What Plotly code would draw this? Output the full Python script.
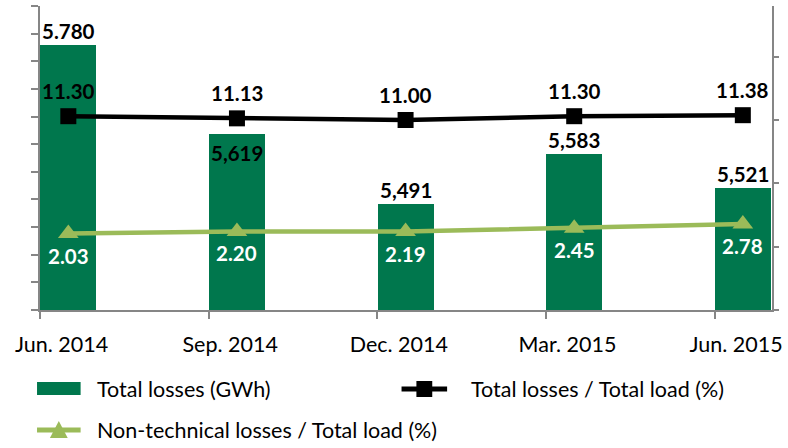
import plotly.graph_objects as go

# Quarterly loss figures
quarters = ["Jun. 2014", "Sep. 2014", "Dec. 2014", "Mar. 2015", "Jun. 2015"]
total_losses_gwh = [5780, 5619, 5491, 5583, 5521]
total_loss_pct = [11.30, 11.13, 11.00, 11.30, 11.38]
nontech_loss_pct = [2.03, 2.20, 2.19, 2.45, 2.78]

left_ticks = list(range(5300, 5851, 50))
right_ticks = [-4, 1, 6, 11, 16]

BAR_GREEN = "#00774D"
LIGHT_GREEN = "#9BBB59"
AXIS_GRAY = "#868686"
FONT = "Lato"

# Page geometry (pixels) used to place the hand-drawn legend
W, H = 788, 448
L, R, T, B = 40, 779, 6, 310


def px_x(px):
    return (px - L) / (R - L)


def px_y(py):
    return (B - py) / (B - T)


xs = list(range(len(quarters)))
bar_w = 0.332
x_lo, x_hi = -0.168, 4.173

fig = go.Figure()

fig.add_trace(go.Bar(
    x=xs, y=total_losses_gwh, width=bar_w,
    marker=dict(color=BAR_GREEN, line=dict(width=0)),
    name="Total losses (GWh)", showlegend=False,
))

fig.add_trace(go.Scatter(
    x=xs, y=total_loss_pct, yaxis="y2", mode="lines+markers",
    line=dict(color="black", width=4.5),
    marker=dict(symbol="square", size=16, color="black"),
    name="Total losses / Total load (%)", showlegend=False,
))

fig.add_trace(go.Scatter(
    x=xs, y=nontech_loss_pct, yaxis="y2", mode="lines+markers",
    line=dict(color=LIGHT_GREEN, width=4.5),
    marker=dict(symbol="triangle-up", size=18, color=LIGHT_GREEN),
    name="Non-technical losses / Total load (%)", showlegend=False,
))

annotations = []
label_font = dict(family=FONT, size=20.5, color="black", weight="bold")

# Bar value labels: above the bar, except the second one which sits inside the top
bar_text = [f"{v:,}" for v in total_losses_gwh]
bar_text[0] = bar_text[0].replace(",", ".")
for i, (v, t) in enumerate(zip(total_losses_gwh, bar_text)):
    inside = i == 1
    annotations.append(dict(
        x=xs[i], y=v, xref="x", yref="y", text=t, showarrow=False,
        yanchor="middle", yshift=-19 if inside else 14, font=label_font,
    ))

for i, v in enumerate(total_loss_pct):
    annotations.append(dict(
        x=xs[i], y=v, xref="x", yref="y2", text=f"{v:.2f}", showarrow=False,
        yanchor="middle", yshift=25, font=label_font,
    ))

for i, v in enumerate(nontech_loss_pct):
    annotations.append(dict(
        x=xs[i], y=v, xref="x", yref="y2", text=f"{v:.2f}", showarrow=False,
        yanchor="middle", yshift=-22,
        font=dict(family=FONT, size=20.5, color="white", weight="bold"),
    ))

# Legend drawn by hand: wide swatch for bars, line+marker keys for the series
legend_font = dict(family=FONT, size=21.5, color="black")
shapes = []
shapes.append(dict(type="rect", xref="paper", yref="paper",
                   x0=px_x(37), x1=px_x(81), y0=px_y(395), y1=px_y(382),
                   fillcolor=BAR_GREEN, line=dict(width=0)))
annotations.append(dict(xref="paper", yref="paper", x=px_x(96), y=px_y(389),
                        xanchor="left", yanchor="middle", showarrow=False,
                        text=fig.data[0].name, font=legend_font))

shapes.append(dict(type="line", xref="paper", yref="paper",
                   x0=px_x(405), x1=px_x(451), y0=px_y(389), y1=px_y(389),
                   line=dict(color="black", width=5)))
shapes.append(dict(type="rect", xref="paper", yref="paper",
                   x0=px_x(420), x1=px_x(436), y0=px_y(397), y1=px_y(381),
                   fillcolor="black", line=dict(width=0)))
annotations.append(dict(xref="paper", yref="paper", x=px_x(473), y=px_y(389),
                        xanchor="left", yanchor="middle", showarrow=False,
                        text=fig.data[1].name, font=legend_font))

shapes.append(dict(type="line", xref="paper", yref="paper",
                   x0=px_x(37), x1=px_x(81), y0=px_y(430), y1=px_y(430),
                   line=dict(color=LIGHT_GREEN, width=5)))
tri = "M {},{} L {},{} L {},{} Z".format(
    px_x(50), px_y(438), px_x(68), px_y(438), px_x(59), px_y(421))
shapes.append(dict(type="path", xref="paper", yref="paper", path=tri,
                   fillcolor=LIGHT_GREEN, line=dict(width=0)))
annotations.append(dict(xref="paper", yref="paper", x=px_x(96), y=px_y(430),
                        xanchor="left", yanchor="middle", showarrow=False,
                        text=fig.data[2].name, font=legend_font))

fig.update_layout(
    width=W, height=H,
    margin=dict(l=L, r=W - R, t=T, b=H - B, pad=0),
    paper_bgcolor="white", plot_bgcolor="white",
    showlegend=False,
    bargap=0,
    xaxis=dict(
        range=[x_lo, x_hi],
        tickmode="array",
        tickvals=[x - 0.04 for x in xs],
        ticktext=quarters,
        ticks="", ticklabelstandoff=14,
        tickfont=dict(family=FONT, size=21.5, color="black"),
        showline=True, linecolor=AXIS_GRAY, linewidth=2,
        showgrid=False, zeroline=False,
        minor=dict(tickmode="array", tickvals=[x - 0.1674 for x in xs],
                   ticks="outside", ticklen=7, tickwidth=2, tickcolor=AXIS_GRAY,
                   showgrid=False),
    ),
    yaxis=dict(
        range=[left_ticks[0], left_ticks[-1]],
        tickmode="array", tickvals=left_ticks, showticklabels=False,
        ticks="outside", ticklen=7, tickwidth=2, tickcolor=AXIS_GRAY,
        showline=True, linecolor=AXIS_GRAY, linewidth=2,
        showgrid=False, zeroline=False,
    ),
    yaxis2=dict(
        range=[-4, 20], overlaying="y", side="right",
        tickmode="array", tickvals=right_ticks, showticklabels=False,
        ticks="outside", ticklen=5, tickwidth=2, tickcolor=AXIS_GRAY,
        showline=True, linecolor=AXIS_GRAY, linewidth=2,
        showgrid=False, zeroline=False,
    ),
    annotations=annotations,
    shapes=shapes,
    font=dict(family=FONT),
)

fig.write_html("out.html")
